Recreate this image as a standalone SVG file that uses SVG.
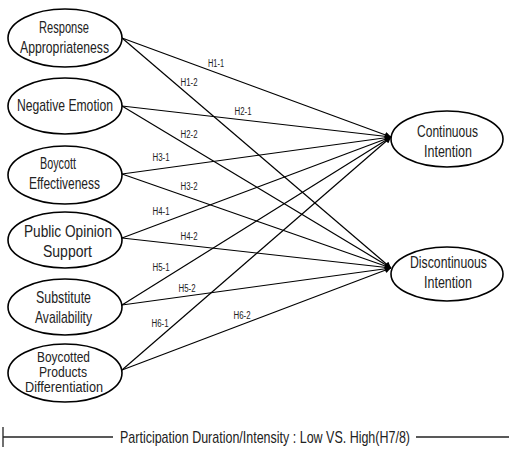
<svg xmlns="http://www.w3.org/2000/svg" width="509" height="450" viewBox="0 0 509 450">
<style>
.node ellipse{fill:#fff;stroke:#000;stroke-width:1.6}
.t{font-family:"Liberation Sans Narrow","Liberation Sans",Arial,sans-serif;font-size:17px;fill:#222}
.s{font-size:14px}
.lbl{font-family:"Liberation Sans Narrow","Liberation Sans",Arial,sans-serif;font-size:10px;fill:#222;text-anchor:middle}
.edge{stroke:#000;stroke-width:1.2;fill:none;marker-end:url(#arr)}
.axis{stroke:#222;stroke-width:1.3;fill:none}
</style>
<defs>
<marker id="arr" viewBox="0 0 10 10" refX="10" refY="5" markerWidth="8" markerHeight="6" markerUnits="userSpaceOnUse" orient="auto">
<path d="M0,0 L10,5 L0,10 z" fill="#000"/>
</marker>
</defs>
<rect width="509" height="450" fill="#fff"/>
<g id="connectors">
<line class="edge" x1="122" y1="38" x2="391" y2="137"/>
<line class="edge" x1="122" y1="38" x2="391" y2="268"/>
<line class="edge" x1="122" y1="106" x2="391" y2="137"/>
<line class="edge" x1="122" y1="106" x2="391" y2="268"/>
<line class="edge" x1="122" y1="174" x2="391" y2="137"/>
<line class="edge" x1="122" y1="174" x2="391" y2="268"/>
<line class="edge" x1="122" y1="238" x2="391" y2="137"/>
<line class="edge" x1="122" y1="238" x2="391" y2="268"/>
<line class="edge" x1="122" y1="305" x2="391" y2="137"/>
<line class="edge" x1="122" y1="305" x2="391" y2="268"/>
<line class="edge" x1="122" y1="370" x2="391" y2="137"/>
<line class="edge" x1="122" y1="370" x2="391" y2="268"/>
<text class="lbl" x="216" y="67" textLength="16" lengthAdjust="spacingAndGlyphs">H1-1</text>
<text class="lbl" x="189" y="86" textLength="17" lengthAdjust="spacingAndGlyphs">H1-2</text>
<text class="lbl" x="243" y="115" textLength="17" lengthAdjust="spacingAndGlyphs">H2-1</text>
<text class="lbl" x="189" y="138" textLength="17" lengthAdjust="spacingAndGlyphs">H2-2</text>
<text class="lbl" x="161" y="161" textLength="17" lengthAdjust="spacingAndGlyphs">H3-1</text>
<text class="lbl" x="189" y="190" textLength="17" lengthAdjust="spacingAndGlyphs">H3-2</text>
<text class="lbl" x="161" y="215" textLength="17" lengthAdjust="spacingAndGlyphs">H4-1</text>
<text class="lbl" x="189" y="240" textLength="17" lengthAdjust="spacingAndGlyphs">H4-2</text>
<text class="lbl" x="161" y="271" textLength="17" lengthAdjust="spacingAndGlyphs">H5-1</text>
<text class="lbl" x="187" y="292" textLength="17" lengthAdjust="spacingAndGlyphs">H5-2</text>
<text class="lbl" x="160" y="327" textLength="17" lengthAdjust="spacingAndGlyphs">H6-1</text>
<text class="lbl" x="242" y="319" textLength="17" lengthAdjust="spacingAndGlyphs">H6-2</text>
</g>
<g id="n1" class="node">
<ellipse cx="65" cy="38" rx="57" ry="29"/>
<text class="t" x="39" y="33" textLength="50" lengthAdjust="spacingAndGlyphs">Response</text>
<text class="t" x="20" y="53" textLength="89" lengthAdjust="spacingAndGlyphs">Appropriateness</text>
</g>
<g id="n2" class="node">
<ellipse cx="65" cy="106" rx="57" ry="28"/>
<text class="t" x="17" y="111" textLength="96" lengthAdjust="spacingAndGlyphs">Negative Emotion</text>
</g>
<g id="n3" class="node">
<ellipse cx="65" cy="175" rx="57" ry="29"/>
<text class="t" x="40" y="169" textLength="36" lengthAdjust="spacingAndGlyphs">Boycott</text>
<text class="t" x="29" y="189" textLength="71" lengthAdjust="spacingAndGlyphs">Effectiveness</text>
</g>
<g id="n4" class="node">
<ellipse cx="65" cy="240" rx="57" ry="28"/>
<text class="t" x="24" y="237" textLength="88" lengthAdjust="spacingAndGlyphs">Public Opinion</text>
<text class="t" x="43" y="257" textLength="49" lengthAdjust="spacingAndGlyphs">Support</text>
</g>
<g id="n5" class="node">
<ellipse cx="65" cy="307" rx="57" ry="28"/>
<text class="t" x="36" y="303" textLength="55" lengthAdjust="spacingAndGlyphs">Substitute</text>
<text class="t" x="35" y="323" textLength="57" lengthAdjust="spacingAndGlyphs">Availability</text>
</g>
<g id="n6" class="node">
<ellipse cx="65" cy="373" rx="57" ry="29"/>
<text class="t s" x="37" y="362" textLength="53" lengthAdjust="spacingAndGlyphs">Boycotted</text>
<text class="t s" x="39" y="377" textLength="48" lengthAdjust="spacingAndGlyphs">Products</text>
<text class="t s" x="25" y="392" textLength="78" lengthAdjust="spacingAndGlyphs">Differentiation</text>
</g>
<g id="n7" class="node">
<ellipse cx="447" cy="139" rx="56" ry="28"/>
<text class="t" x="417" y="137" textLength="61" lengthAdjust="spacingAndGlyphs">Continuous</text>
<text class="t" x="424" y="157" textLength="48" lengthAdjust="spacingAndGlyphs">Intention</text>
</g>
<g id="n8" class="node">
<ellipse cx="447" cy="274" rx="56" ry="27"/>
<text class="t" x="410" y="268" textLength="77" lengthAdjust="spacingAndGlyphs">Discontinuous</text>
<text class="t" x="424" y="288" textLength="48" lengthAdjust="spacingAndGlyphs">Intention</text>
</g>
<g id="axis">
<line class="axis" x1="3" y1="427" x2="3" y2="447"/>
<line class="axis" x1="3" y1="437" x2="113" y2="437"/>
<line class="axis" x1="416" y1="437" x2="509" y2="437"/>
<text class="t" x="120" y="443" font-size="15" textLength="290" lengthAdjust="spacingAndGlyphs">Participation Duration/Intensity : Low VS. High(H7/8)</text>
</g>
</svg>
